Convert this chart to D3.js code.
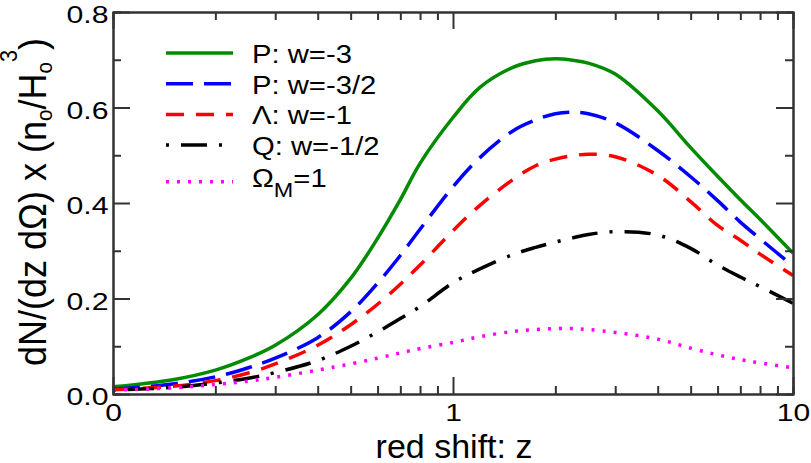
<!DOCTYPE html>
<html>
<head>
<meta charset="utf-8">
<script src="https://cdn.jsdelivr.net/npm/d3@7"></script>
<style>
  body { margin: 0; background: #fff; }
  svg { display: block; font-family: "Liberation Sans", Arial, sans-serif; }
</style>
</head>
<body>
<div id="chart"></div>
<script>
// red shift grid and the five curves
var zValues   = [0.1, 0.15, 0.2, 0.25, 0.3, 0.4, 0.5, 0.6, 0.7, 0.8, 1, 1.2, 1.5, 1.75, 2, 2.25, 2.5, 3, 4, 5, 6, 7, 8, 10];
var phantom3  = [0.015, 0.03, 0.05, 0.075, 0.102, 0.166, 0.242, 0.326, 0.407, 0.483, 0.579, 0.642, 0.684, 0.698, 0.702, 0.699, 0.693, 0.67, 0.593, 0.516, 0.456, 0.407, 0.366, 0.295];
var phantom32 = [0.01, 0.021, 0.036, 0.055, 0.075, 0.118, 0.172, 0.232, 0.29, 0.345, 0.434, 0.495, 0.551, 0.574, 0.587, 0.59, 0.587, 0.568, 0.51, 0.455, 0.405, 0.36, 0.325, 0.268];
var lambda1   = [0.009, 0.016, 0.028, 0.044, 0.063, 0.102, 0.145, 0.188, 0.23, 0.27, 0.342, 0.395, 0.449, 0.478, 0.492, 0.499, 0.502, 0.497, 0.458, 0.403, 0.353, 0.322, 0.293, 0.248];
var quint12   = [0.008, 0.014, 0.023, 0.033, 0.045, 0.07, 0.1, 0.13, 0.158, 0.183, 0.233, 0.262, 0.292, 0.307, 0.318, 0.327, 0.334, 0.34, 0.333, 0.305, 0.27, 0.245, 0.225, 0.19];
var omegaM1   = [0.008, 0.013, 0.02, 0.027, 0.035, 0.05, 0.063, 0.075, 0.086, 0.095, 0.108, 0.12, 0.131, 0.135, 0.137, 0.137, 0.135, 0.129, 0.115, 0.096, 0.082, 0.072, 0.065, 0.055];

var seriesLabels = ["P: w=-3", "P: w=-3/2", "\u039B: w=-1", "Q: w=-1/2", "\u03A9M=1"];
var xTickValues = [0.1, 1, 10];
var xTickLabels = ["0", "1", "10"];
var xMinorTicks = [0.2, 0.3, 0.4, 0.5, 0.6, 0.7, 0.8, 0.9, 2, 3, 4, 5, 6, 7, 8, 9];
var yTickValues = [0, 0.2, 0.4, 0.6, 0.8];
var yMinorTicks = [0.1, 0.3, 0.5, 0.7];

var margin = {top: 12, right: 18, bottom: 69, left: 113},
    width = 811 - margin.left - margin.right,
    height = 463 - margin.top - margin.bottom;

var series = [
  {name: seriesLabels[0], values: phantom3,  color: "#008b00", dash: null},
  {name: seriesLabels[1], values: phantom32, color: "#0000ff", dash: "27,11"},
  {name: seriesLabels[2], values: lambda1,   color: "#ff0000", dash: "18,12"},
  {name: seriesLabels[3], values: quint12,   color: "#000000", dash: "3,12,26,12"},
  {name: seriesLabels[4], values: omegaM1,   color: "#ff00ff", dash: "3,8"}
];

var svg = d3.select("#chart")
    .append("svg")
    .attr("width", width + margin.left + margin.right)
    .attr("height", height + margin.top + margin.bottom)
    .append("g")
    .attr("transform", "translate(" + margin.left + "," + margin.top + ")");

var x = d3.scaleLog()
    .domain([0.1, 10])
    .range([0, width]);
var y = d3.scaleLinear()
    .domain([0, 0.8])
    .range([height, 0]);

// curves
var line = d3.line()
    .x(function(d) { return x(d[0]); })
    .y(function(d) { return y(d[1]); })
    .curve(d3.curveCatmullRom.alpha(0.5));

series.forEach(function(s) {
    svg.append("path")
        .datum(zValues.map(function(z, i) { return [z, s.values[i]]; }))
        .attr("fill", "none")
        .attr("stroke", s.color)
        .attr("stroke-width", 3.5)
        .attr("stroke-dasharray", s.dash)
        .attr("d", line);
});

// axes, ticks pointing inward on all four sides
function styleAxis(g) {
    g.select(".domain").attr("stroke", "#333").attr("stroke-width", 2);
    g.selectAll(".tick line").attr("stroke", "#333").attr("stroke-width", 2);
    g.selectAll("text")
        .style("font-family", "Liberation Sans, Arial, sans-serif")
        .style("font-size", "24px")
        .attr("fill", "#000");
}
function stretchText(g, k) {
    g.selectAll("text").each(function() {
        var w = this.getComputedTextLength();
        d3.select(this).attr("textLength", w * k).attr("lengthAdjust", "spacingAndGlyphs");
    });
}

var gx = svg.append("g")
    .attr("transform", "translate(0," + height + ")")
    .call(d3.axisBottom(x).tickValues(xTickValues)
        .tickFormat(function(d, i) { return xTickLabels[i]; })
        .tickSizeInner(-17).tickSizeOuter(0).tickPadding(10));
styleAxis(gx);
stretchText(gx, 1.25);
svg.append("g")
    .attr("transform", "translate(0," + height + ")")
    .call(d3.axisBottom(x).tickValues(xMinorTicks).tickFormat("").tickSize(-8))
    .call(styleAxis);

svg.append("g")
    .call(d3.axisTop(x).tickValues(xTickValues).tickFormat("").tickSizeInner(-17).tickSizeOuter(0))
    .call(styleAxis);
svg.append("g")
    .call(d3.axisTop(x).tickValues(xMinorTicks).tickFormat("").tickSize(-8))
    .call(styleAxis);

var gy = svg.append("g")
    .call(d3.axisLeft(y).tickValues(yTickValues).tickFormat(d3.format(".1f"))
        .tickSizeInner(-17).tickSizeOuter(0).tickPadding(4.5));
styleAxis(gy);
gy.selectAll("text").attr("dy", "0.44em");
stretchText(gy, 1.26);
svg.append("g")
    .call(d3.axisLeft(y).tickValues(yMinorTicks).tickFormat("").tickSize(-8))
    .call(styleAxis);

svg.append("g")
    .attr("transform", "translate(" + width + ",0)")
    .call(d3.axisRight(y).tickValues(yTickValues).tickFormat("").tickSizeInner(-17).tickSizeOuter(0))
    .call(styleAxis);
svg.append("g")
    .attr("transform", "translate(" + width + ",0)")
    .call(d3.axisRight(y).tickValues(yMinorTicks).tickFormat("").tickSize(-8))
    .call(styleAxis);

// axis titles
svg.append("text")
    .attr("x", 454 - margin.left)
    .attr("y", 458 - margin.top)
    .attr("text-anchor", "middle")
    .style("font-size", "34px")
    .text("red shift: z");

var yTitle = svg.append("text")
    .attr("text-anchor", "middle")
    .style("font-size", "35px");
yTitle.append("tspan").text("dN/(dz d\u03A9) x (n");
yTitle.append("tspan").attr("dy", 5).style("font-size", "20px").text("o");
yTitle.append("tspan").attr("dy", -5).text("/H");
yTitle.append("tspan").attr("dy", 5).style("font-size", "20px").text("o");
yTitle.append("tspan").attr("dy", -31).style("font-size", "21px").text("3");
yTitle.append("tspan").attr("dy", 26).text(")");
var yTitleLen = yTitle.node().getBBox().width;
yTitle.attr("transform", "translate(" + (46 - margin.left) + "," + (202 - margin.top) +
    ") rotate(-90) scale(" + (328 / yTitleLen) + ",1.1)");

// legend
var legend = svg.append("g")
    .attr("transform", "translate(" + (166 - margin.left) + "," + (53 - margin.top) + ")");
series.forEach(function(s, i) {
    var ly = i < 4 ? i * 30.7 : 128.7;
    legend.append("line")
        .attr("x1", 0).attr("x2", 67)
        .attr("y1", ly).attr("y2", ly)
        .attr("stroke", s.color)
        .attr("stroke-width", 3.5)
        .attr("stroke-dasharray", s.dash);
    var t = legend.append("text")
        .attr("transform", "translate(86," + (ly + (i < 4 ? 10 : 5.5)) + ") scale(1.17,1)")
        .style("font-size", "25px");
    if (i < 4) {
        t.text(s.name);
    } else {
        t.append("tspan").text("\u03A9");
        t.append("tspan").attr("dy", 10).style("font-size", "20px").text("M");
        t.append("tspan").attr("dy", -10).text("=1");
    }
});
</script>
</body>
</html>
